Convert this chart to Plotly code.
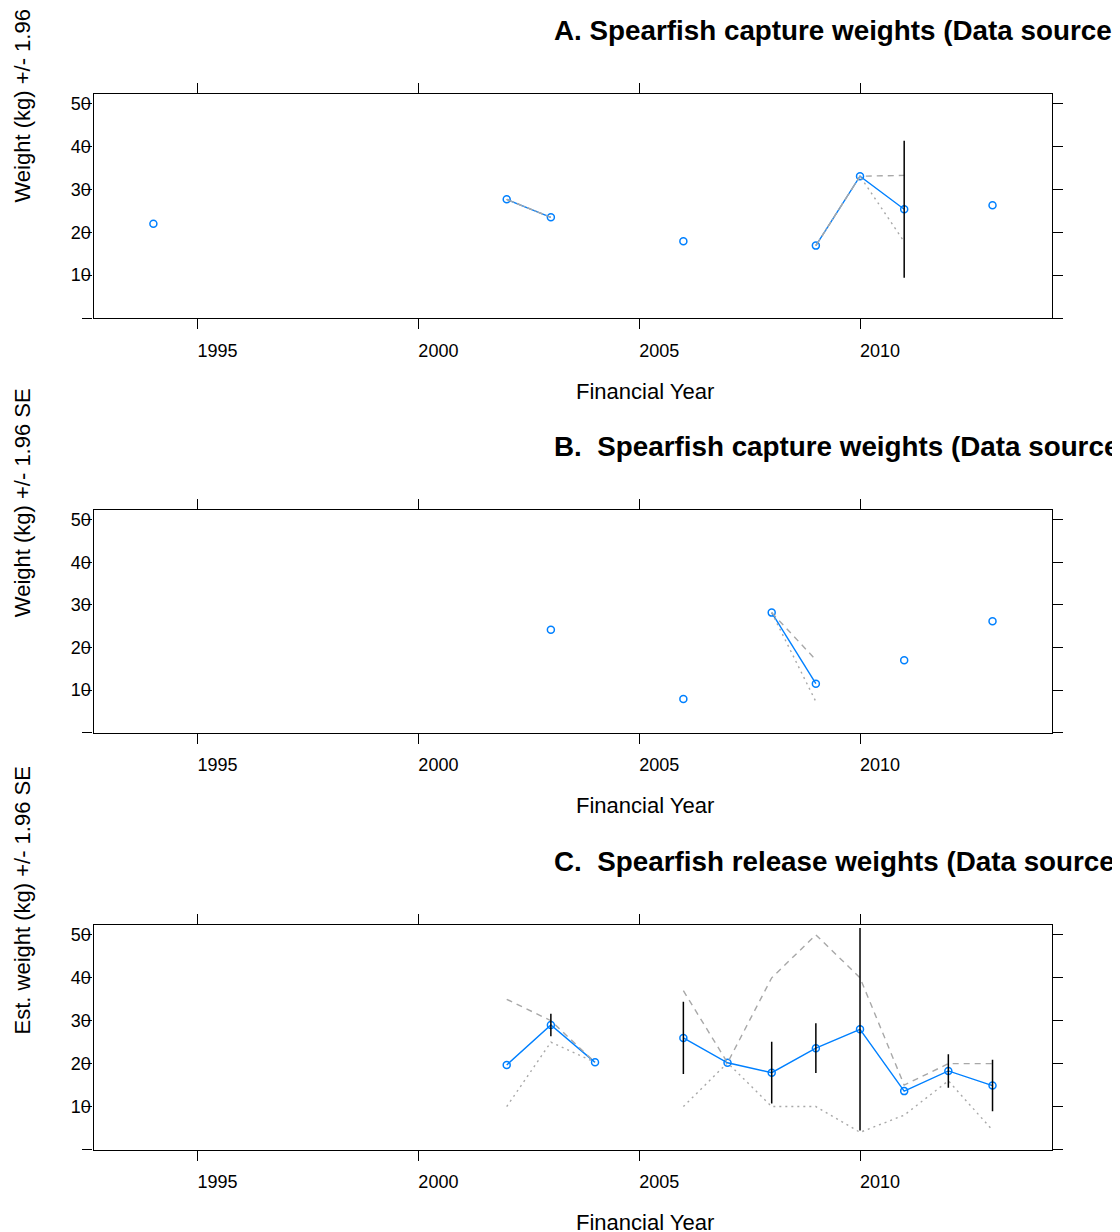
import plotly.graph_objects as go

# ---------------- data ----------------
years = list(range(1994, 2014))

# Panel A: capture weights
a_years = [1994, 2002, 2003, 2006, 2009, 2010, 2011, 2013]
a_mean = [22.0, 27.7, 23.5, 17.9, 16.9, 33.1, 25.4, 26.3]
a_upper = [22.0, 27.7, 23.5, 17.9, 16.9, 33.1, 33.3, 26.3]
a_lower = [22.0, 27.7, 23.5, 17.9, 16.9, 33.1, 17.8, 26.3]
a_ci = [None, None, None, None, None, None, 16.0, None]

# Panel B: capture weights (second source)
b_years = [2003, 2006, 2008, 2009, 2011, 2013]
b_mean = [24.2, 7.9, 28.2, 11.5, 17.0, 26.2]
b_upper = [24.2, 7.9, 28.2, 17.1, 17.0, 26.2]
b_lower = [24.2, 7.9, 28.2, 7.3, 17.0, 26.2]
b_ci = [None, None, None, None, None, None]

# Panel C: release weights
c_years = [2002, 2003, 2004, 2006, 2007, 2008, 2009, 2010, 2011, 2012, 2013]
c_mean = [19.7, 29.0, 20.3, 26.0, 20.2, 17.9, 23.6, 28.0, 13.6, 18.3, 14.9]
c_upper = [35.0, 30.0, 20.3, 37.0, 20.2, 40.0, 50.0, 40.0, 15.0, 20.0, 20.0]
c_lower = [10.0, 25.0, 20.3, 10.0, 20.2, 10.0, 10.0, 4.0, 8.0, 16.0, 4.5]
c_ci = [None, 2.6, None, 8.4, None, 7.2, 5.8, 23.6, None, 3.9, 6.0]

x_tickvals = [1995, 2000, 2005, 2010]
x_ticktext = ["1995", "2000", "2005", "2010"]
y_tickvals = [0, 10, 20, 30, 40, 50]
y_ticktext = ["", "10", "20", "30", "40", "50"]

titles = ["A. Spearfish capture weights (Data source",
          "B.\u00a0 Spearfish capture weights (Data source",
          "C.\u00a0 Spearfish release weights (Data source"]
y_titles = ["Weight (kg) +/- 1.96 SE", "Weight (kg) +/- 1.96 SE",
            "Est. weight (kg) +/- 1.96 SE"]
x_title = "Financial Year"

# ---------------- styling / layout ----------------
W, H = 1120, 1232
OFF = 8  # page body margin
FONT = "Liberation Sans, Arial, sans-serif"
BLUE = "#0080ff"
GREY = "#a8a8a8"


def grid(yrs, vals):
    d = dict(zip(yrs, vals))
    return [d.get(y) for y in years]


def px(p):
    return (p - OFF) / W


def py(p):
    return 1 - (p - OFF) / H


panel_px = [(94, 318), (510, 732.7), (925, 1149.5)]
x_dom = [px(93.5), px(1051.7)]
x_range = [1992.644, 2014.34]
y_range = [0, 52.3]

panels = [
    (a_years, a_mean, a_upper, a_lower, a_ci),
    (b_years, b_mean, b_upper, b_lower, b_ci),
    (c_years, c_mean, c_upper, c_lower, c_ci),
]

fig = go.Figure()
layout_axes = {}
annotations = []

for i, (yrs, mean, up, lo, ci) in enumerate(panels):
    sfx = "" if i == 0 else str(i + 1)
    xa, ya = "x" + sfx, "y" + sfx
    fig.add_trace(go.Scatter(
        x=years, y=grid(yrs, mean), xaxis=xa, yaxis=ya, mode="lines+markers",
        connectgaps=False, line=dict(color=BLUE, width=1.4),
        marker=dict(symbol="circle-open", size=7, color=BLUE,
                    line=dict(color=BLUE, width=1.5)),
        showlegend=False, hoverinfo="skip"))
    fig.add_trace(go.Scatter(
        x=years, y=grid(yrs, up), xaxis=xa, yaxis=ya, mode="lines",
        connectgaps=False, line=dict(color=GREY, width=1.4, dash="6px,5px"),
        showlegend=False, hoverinfo="skip"))
    fig.add_trace(go.Scatter(
        x=years, y=grid(yrs, lo), xaxis=xa, yaxis=ya, mode="lines",
        connectgaps=False, line=dict(color=GREY, width=1.4, dash="2px,4px"),
        showlegend=False, hoverinfo="skip"))
    fig.add_trace(go.Scatter(
        x=years, y=grid(yrs, mean), xaxis=xa, yaxis=ya, mode="markers",
        marker=dict(size=1, opacity=0),
        error_y=dict(type="data", array=grid(yrs, ci), symmetric=True,
                     color="black", thickness=1.5, width=0),
        showlegend=False, hoverinfo="skip"))

    top, bot = panel_px[i]
    common = dict(showline=True, linecolor="black", linewidth=1.2,
                  mirror="ticks", ticks="outside", ticklen=10, tickwidth=1.2,
                  tickcolor="black", showgrid=False, zeroline=False,
                  tickfont=dict(family=FONT, size=18, color="black"))
    layout_axes["xaxis" + sfx] = dict(
        domain=x_dom, range=x_range, anchor=ya, tickvals=x_tickvals,
        ticktext=x_ticktext, ticklabelshift=20, ticklabelstandoff=6, **common)
    layout_axes["yaxis" + sfx] = dict(
        domain=[py(bot), py(top)], range=y_range, anchor=xa,
        tickvals=y_tickvals, ticktext=y_ticktext, ticklabelstandoff=-12,
        **common)

    annotations.append(dict(
        text="<b>" + titles[i] + "</b>", x=px(552), y=py(top - 64),
        xref="paper", yref="paper", xanchor="left", yanchor="middle",
        showarrow=False, font=dict(family=FONT, size=27.8, color="black")))
    annotations.append(dict(
        text=x_title, x=px(645), y=py(bot + 73), xref="paper", yref="paper",
        xanchor="center", yanchor="middle", showarrow=False,
        font=dict(family=FONT, size=22, color="black")))
    annotations.append(dict(
        text=y_titles[i], x=px(22), y=py(bot - 113), xref="paper",
        yref="paper", xanchor="center", yanchor="bottom", textangle=-90,
        showarrow=False, font=dict(family=FONT, size=22, color="black")))

fig.update_layout(
    width=W, height=H, margin=dict(l=0, r=0, t=0, b=0),
    paper_bgcolor="white", plot_bgcolor="white",
    annotations=annotations, **layout_axes)

fig.write_html("out.html")
